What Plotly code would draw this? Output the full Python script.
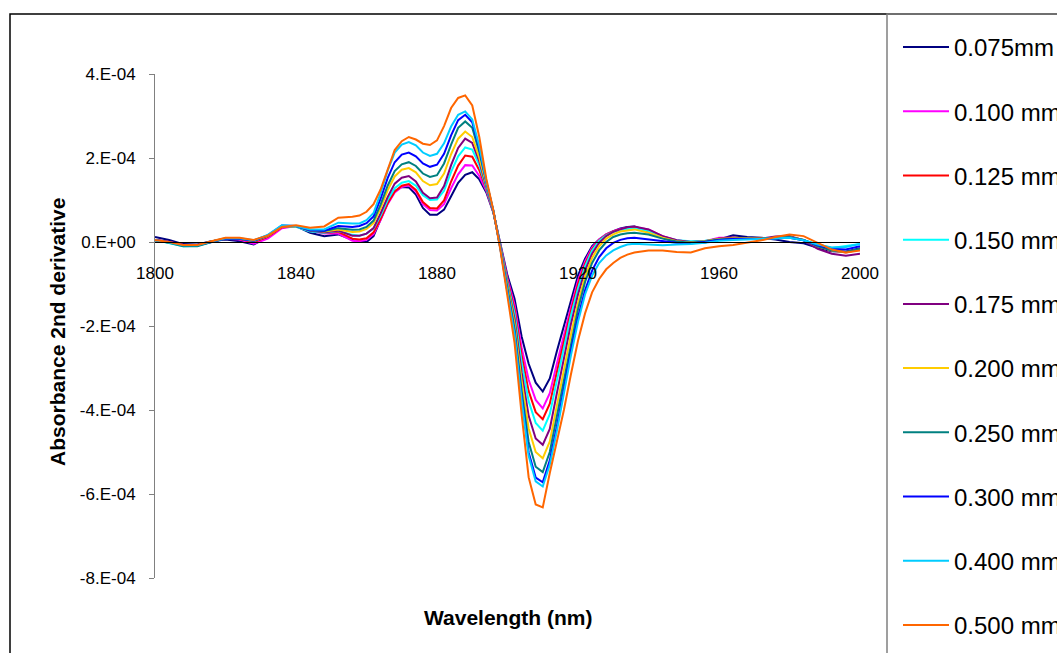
import plotly.graph_objects as go

# ---------------- data (values in units of 1e-4) ----------------
SCALE = 1e-4
wavelength = [1800, 1804, 1808, 1812, 1816, 1820, 1824, 1828, 1832, 1836, 1840, 1844, 1848, 1852, 1856,
              1858, 1860, 1862, 1864, 1866, 1868, 1870, 1872, 1874, 1876, 1878, 1880, 1882, 1884, 1886, 1888,
              1890, 1892, 1894, 1896, 1898, 1900, 1902, 1904, 1906, 1908, 1910, 1912, 1914, 1916, 1918, 1920,
              1922, 1924, 1926, 1928, 1930, 1932, 1934, 1936,
              1940, 1944, 1948, 1952, 1956, 1960, 1964, 1968, 1972, 1976, 1980, 1984, 1988, 1992, 1996, 2000]

s_0075 = [0.12, 0.05, -0.05, -0.06, 0.02, 0.06, 0.02, -0.06, 0.12, 0.36, 0.38, 0.22, 0.14, 0.18, 0.05,
          0.0, 0.0, 0.14, 0.54, 0.93, 1.21, 1.31, 1.3, 1.13, 0.81, 0.65, 0.65, 0.77, 1.09, 1.41, 1.6,
          1.66, 1.49, 1.18, 0.7, -0.05, -0.8, -1.35, -2.25, -2.9, -3.35, -3.56, -3.25, -2.6, -2.0, -1.4, -0.8,
          -0.4, -0.1, 0.06, 0.18, 0.26, 0.32, 0.36, 0.37,
          0.25, 0.1, 0.0, -0.03, -0.01, 0.06, 0.16, 0.12, 0.1, 0.06, 0.0, -0.03, -0.14, -0.22, -0.23, -0.15]
s_0100 = [0.05, 0.0, -0.07, -0.08, 0.0, 0.08, 0.06, -0.04, 0.08, 0.33, 0.38, 0.26, 0.2, 0.2, 0.03,
          0.02, 0.05, 0.19, 0.52, 0.9, 1.18, 1.31, 1.35, 1.2, 0.9, 0.76, 0.75, 0.9, 1.28, 1.61, 1.83,
          1.82, 1.57, 1.22, 0.71, -0.07, -0.87, -1.5, -2.51, -3.28, -3.76, -3.96, -3.6, -2.9, -2.2, -1.55, -0.92,
          -0.46, -0.13, 0.06, 0.18, 0.26, 0.31, 0.34, 0.35,
          0.3, 0.14, 0.04, 0.0, 0.02, 0.1, 0.1, 0.08, 0.08, 0.1, 0.12, 0.05, -0.1, -0.2, -0.25, -0.18]
s_0125 = [0.05, 0.0, -0.07, -0.08, 0.01, 0.08, 0.07, 0.0, 0.12, 0.35, 0.37, 0.26, 0.22, 0.24, 0.08,
          0.06, 0.09, 0.23, 0.55, 0.92, 1.2, 1.34, 1.38, 1.24, 0.95, 0.81, 0.8, 0.99, 1.44, 1.82, 2.06,
          2.03, 1.71, 1.26, 0.71, -0.09, -0.92, -1.6, -2.69, -3.55, -4.05, -4.22, -3.85, -3.1, -2.35, -1.65, -1.0,
          -0.52, -0.17, 0.04, 0.17, 0.25, 0.3, 0.33, 0.34,
          0.28, 0.13, 0.03, -0.01, 0.02, 0.08, 0.1, 0.09, 0.09, 0.1, 0.12, 0.05, -0.1, -0.2, -0.24, -0.17]
s_0150 = [0.05, -0.02, -0.1, -0.09, 0.0, 0.08, 0.08, 0.02, 0.15, 0.38, 0.36, 0.25, 0.22, 0.26, 0.17,
          0.15, 0.2, 0.32, 0.63, 1.0, 1.28, 1.41, 1.45, 1.34, 1.11, 1.0, 1.01, 1.22, 1.67, 2.04, 2.25,
          2.2, 1.83, 1.29, 0.72, -0.1, -0.97, -1.7, -2.86, -3.79, -4.31, -4.49, -4.1, -3.3, -2.5, -1.75, -1.1,
          -0.58, -0.2, 0.03, 0.16, 0.24, 0.28, 0.31, 0.32,
          0.26, 0.12, 0.04, 0.02, 0.03, 0.07, 0.08, 0.08, 0.07, 0.09, 0.1, 0.05, -0.06, -0.14, -0.1, -0.05]
s_0175 = [0.04, -0.01, -0.08, -0.08, 0.0, 0.08, 0.08, 0.02, 0.14, 0.37, 0.38, 0.27, 0.23, 0.27, 0.15,
          0.15, 0.2, 0.33, 0.68, 1.07, 1.39, 1.53, 1.57, 1.44, 1.17, 1.04, 1.06, 1.33, 1.83, 2.24, 2.46,
          2.36, 1.92, 1.33, 0.72, -0.12, -1.03, -1.83, -3.1, -4.14, -4.68, -4.83, -4.45, -3.6, -2.75, -1.95, -1.25,
          -0.68, -0.28, -0.02, 0.14, 0.24, 0.3, 0.35, 0.37,
          0.3, 0.14, 0.04, 0.0, 0.02, 0.08, 0.1, 0.08, 0.08, 0.13, 0.14, 0.04, -0.16, -0.28, -0.33, -0.28]
s_0200 = [0.04, -0.01, -0.08, -0.08, 0.01, 0.09, 0.08, 0.02, 0.14, 0.37, 0.38, 0.28, 0.25, 0.3, 0.24,
          0.25, 0.31, 0.45, 0.81, 1.23, 1.56, 1.72, 1.76, 1.66, 1.45, 1.35, 1.38, 1.63, 2.09, 2.46, 2.63,
          2.5, 2.0, 1.36, 0.73, -0.14, -1.09, -1.95, -3.3, -4.44, -5.0, -5.15, -4.75, -3.9, -3.0, -2.2, -1.45,
          -0.82, -0.38, -0.1, 0.08, 0.18, 0.25, 0.28, 0.3,
          0.22, 0.1, 0.02, -0.01, 0.02, 0.07, 0.09, 0.08, 0.08, 0.1, 0.12, 0.05, -0.1, -0.2, -0.25, -0.18]
s_0250 = [0.04, -0.02, -0.1, -0.1, 0.0, 0.08, 0.08, 0.03, 0.15, 0.38, 0.38, 0.28, 0.26, 0.33, 0.29,
          0.3, 0.36, 0.51, 0.89, 1.34, 1.69, 1.85, 1.9, 1.81, 1.63, 1.55, 1.59, 1.87, 2.32, 2.72, 2.87,
          2.72, 2.14, 1.4, 0.73, -0.15, -1.15, -2.07, -3.53, -4.76, -5.35, -5.48, -5.0, -4.15, -3.25, -2.4, -1.6,
          -0.95, -0.5, -0.2, 0.0, 0.12, 0.18, 0.21, 0.22,
          0.18, 0.08, 0.01, -0.02, 0.01, 0.06, 0.08, 0.08, 0.08, 0.1, 0.12, 0.05, -0.1, -0.2, -0.24, -0.16]
s_0300 = [0.05, 0.0, -0.07, -0.07, 0.01, 0.08, 0.08, 0.03, 0.16, 0.39, 0.38, 0.28, 0.27, 0.38, 0.36,
          0.38, 0.45, 0.61, 1.03, 1.52, 1.9, 2.08, 2.13, 2.04, 1.87, 1.79, 1.84, 2.1, 2.54, 2.9, 3.03,
          2.85, 2.23, 1.43, 0.74, -0.17, -1.19, -2.17, -3.69, -5.01, -5.61, -5.72, -5.2, -4.4, -3.5, -2.6, -1.8,
          -1.15, -0.68, -0.36, -0.15, -0.02, 0.05, 0.09, 0.1,
          0.06, 0.02, -0.02, -0.03, 0.0, 0.05, 0.07, 0.07, 0.07, 0.09, 0.1, 0.04, -0.08, -0.16, -0.18, -0.1]
s_0400 = [0.04, -0.01, -0.08, -0.08, 0.01, 0.09, 0.09, 0.04, 0.17, 0.4, 0.38, 0.3, 0.3, 0.46, 0.44,
          0.44, 0.52, 0.69, 1.16, 1.7, 2.13, 2.32, 2.38, 2.3, 2.13, 2.05, 2.1, 2.35, 2.75, 3.03, 3.11,
          2.92, 2.28, 1.44, 0.74, -0.17, -1.2, -2.2, -3.75, -5.09, -5.7, -5.82, -5.3, -4.5, -3.6, -2.7, -1.9,
          -1.25, -0.8, -0.5, -0.32, -0.2, -0.12, -0.06, -0.04,
          -0.06, -0.08, -0.06, -0.05, -0.02, 0.03, 0.05, 0.06, 0.07, 0.09, 0.1, 0.04, -0.06, -0.13, -0.12, -0.05]
s_0500 = [0.05, 0.0, -0.07, -0.07, 0.02, 0.1, 0.1, 0.05, 0.15, 0.36, 0.4, 0.34, 0.37, 0.58, 0.6,
          0.63, 0.72, 0.9, 1.25, 1.73, 2.19, 2.4, 2.5, 2.44, 2.34, 2.31, 2.42, 2.76, 3.19, 3.43, 3.49,
          3.25, 2.5, 1.5, 0.75, -0.2, -1.3, -2.4, -4.1, -5.6, -6.25, -6.32, -5.5, -4.75, -4.0, -3.15, -2.35,
          -1.7, -1.2, -0.88, -0.65, -0.5, -0.38, -0.3, -0.25,
          -0.2, -0.2, -0.24, -0.25, -0.15, -0.1, -0.07, -0.02, 0.04, 0.12, 0.18, 0.14, -0.02, -0.18, -0.25, -0.2]

series_names = ["0.075mm", "0.100 mm", "0.125 mm", "0.150 mm", "0.175 mm",
                "0.200 mm", "0.250 mm", "0.300 mm", "0.400 mm", "0.500 mm"]
series_values = [s_0075, s_0100, s_0125, s_0150, s_0175, s_0200, s_0250, s_0300, s_0400, s_0500]
series_colors = ["#000080", "#FF00FF", "#FF0000", "#00FFFF", "#800080",
                 "#FFCC00", "#008080", "#0000FF", "#00CCFF", "#FF6600"]

x_ticks = [1800, 1840, 1880, 1920, 1960, 2000]
y_tick_vals = [-8e-4, -6e-4, -4e-4, -2e-4, 0.0, 2e-4, 4e-4]
y_tick_text = ["-8.E-04", "-6.E-04", "-4.E-04", "-2.E-04", "0.E+00", "2.E-04", "4.E-04"]

# ---------------- figure ----------------
W, H = 1057, 653
L, R, T, B = 155, 197, 74, 75
PW, PH = W - L - R, H - T - B
FONT = "Liberation Sans, Arial, sans-serif"


def px_x(px):
    return (px - L) / PW


def px_y(py):
    return (H - B - py) / PH


fig = go.Figure()
for i, (name, vals, col) in enumerate(zip(series_names, series_values, series_colors)):
    fig.add_trace(go.Scatter(
        x=wavelength, y=[v * SCALE for v in vals], mode="lines", name=name,
        line=dict(color=col, width=2), legendgroup=f"g{i}",
    ))

fig.update_layout(
    width=W, height=H, autosize=False,
    margin=dict(l=L, r=R, t=T, b=B, pad=0, autoexpand=False),
    paper_bgcolor="white", plot_bgcolor="white",
    font=dict(family=FONT, color="black", size=17),
    showlegend=True,
    legend=dict(
        x=px_x(898), xanchor="left", y=px_y(25), yanchor="top",
        font=dict(family=FONT, size=24, color="black"),
        bgcolor="rgba(0,0,0,0)", borderwidth=0,
        tracegroupgap=30, orientation="v", itemwidth=46, maxheight=2000,
    ),
    xaxis=dict(
        range=[1800, 2000], tickvals=x_ticks, showgrid=False, zeroline=False,
        showline=True, linecolor="black", linewidth=1,
        anchor="free", position=8 / 12, ticks="", ticklabelstandoff=16,
        tickfont=dict(family=FONT, size=17, color="black"),
    ),
    yaxis=dict(
        range=[-8e-4, 4e-4], tickvals=y_tick_vals, ticktext=y_tick_text,
        showgrid=False, zeroline=False, showline=True, linecolor="#808080", linewidth=1,
        ticks="outside", ticklen=5, tickcolor="#808080", ticklabelstandoff=10,
        tickfont=dict(family=FONT, size=17, color="black"),
    ),
    annotations=[
        dict(text="<b>Wavelength (nm)</b>", xref="paper", yref="paper",
             x=px_x(508), y=px_y(617), xanchor="center", yanchor="middle",
             showarrow=False, font=dict(family=FONT, size=21, color="black")),
        dict(text="<b>Absorbance 2nd derivative</b>", xref="paper", yref="paper",
             x=px_x(57), y=px_y(332), xanchor="center", yanchor="middle", textangle=-90,
             showarrow=False, font=dict(family=FONT, size=21, color="black")),
    ],
    shapes=[
        dict(type="rect", xref="paper", yref="paper",
             x0=px_x(10), x1=px_x(1100), y0=px_y(700), y1=px_y(14),
             line=dict(color="black", width=1.5), fillcolor="rgba(0,0,0,0)", layer="below"),
        dict(type="rect", xref="paper", yref="paper",
             x0=px_x(887), x1=px_x(1100), y0=px_y(700), y1=px_y(14),
             line=dict(color="#808080", width=1.5), fillcolor="rgba(0,0,0,0)", layer="below"),
    ],
)

fig.write_html("out.html")
